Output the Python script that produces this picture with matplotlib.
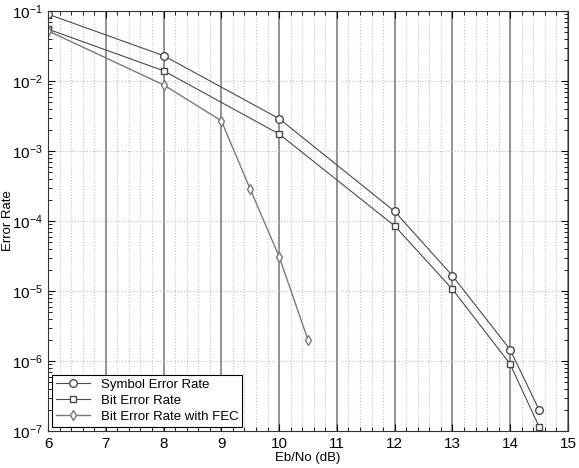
import matplotlib
matplotlib.use('Agg')
import matplotlib.pyplot as plt
from matplotlib.ticker import MultipleLocator, FixedLocator, LogFormatterMathtext, NullFormatter
import numpy as np

plt.rcParams['font.family'] = ['Liberation Sans', 'DejaVu Sans']
plt.rcParams['mathtext.fontset'] = 'custom'
plt.rcParams['mathtext.rm'] = 'Liberation Sans'

ebno_ser = [6, 8, 10, 12, 13, 14, 14.5]
ser = [0.09, 0.023, 0.0029, 1.37e-4, 1.65e-5, 1.45e-6, 2.0e-7]

ebno_ber = [6, 8, 10, 12, 13, 14, 14.5]
ber = [0.055, 0.014, 0.00175, 8.5e-5, 1.06e-5, 9.0e-7, 1.15e-7]

ebno_fec = [6, 8, 9, 9.5, 10, 10.5]
ber_fec = [0.052, 0.0088, 0.0027, 2.85e-4, 3.1e-5, 2.0e-6]

fig = plt.figure(figsize=(5.79, 4.68), dpi=100)
ax = fig.add_axes([0.083, 0.079, 0.898, 0.8975])

ax.semilogy(ebno_ser, ser, '-o', color='#4a4a4a', lw=0.8, mfc='white', mec='#4a4a4a', ms=5.5, label='Symbol Error Rate')
ax.semilogy(ebno_ber, ber, '-s', color='#4a4a4a', lw=0.8, mfc='white', mec='#4a4a4a', ms=5, label='Bit Error Rate')
ax.semilogy(ebno_fec, ber_fec, '-d', color='#7a7a7a', lw=1.0, mfc='white', mec='#7a7a7a', ms=5.5, label='Bit Error Rate with FEC')

ax.set_xlim(6, 15)
ax.set_ylim(1e-7, 1e-1)
ax.xaxis.set_major_locator(FixedLocator(np.arange(6, 16)))
ax.xaxis.set_minor_locator(MultipleLocator(0.2))
decades = 10.0 ** np.arange(-7, 0)
ax.yaxis.set_major_locator(FixedLocator(decades))
ax.yaxis.set_major_formatter(LogFormatterMathtext())
minors = np.concatenate([d * np.arange(2, 10) for d in decades[:-1]])
ax.yaxis.set_minor_locator(FixedLocator(minors))
ax.yaxis.set_minor_formatter(NullFormatter())

ax.grid(which='major', axis='x', color='#808080', lw=1.2, ls='-')
ax.grid(which='minor', axis='x', color='#c0c0c0', lw=0.8, ls=':')
ax.grid(which='major', axis='y', color='#c0c0c0', lw=0.8, ls=':')
ax.tick_params(which='both', direction='in', top=True, right=True, labelsize=11, pad=4)
ax.tick_params(which='major', length=5)
ax.tick_params(which='minor', length=3)
for s in ax.spines.values():
    s.set_color('#333333')

ax.set_xlabel('Eb/No (dB)', fontsize=9.5, labelpad=1)
# y label placed by hand so it sits right against the left edge
fig.text(0.003, 0.528, 'Error Rate', rotation=90, ha='left', va='center', fontsize=9.5)

leg = ax.legend(loc='lower left', fontsize=9.5, fancybox=False, edgecolor='black',
                borderaxespad=0.3, handlelength=2.6, framealpha=1,
                labelspacing=0.3, borderpad=0.3)
leg.get_frame().set_linewidth(0.8)

fig.savefig('out.png', dpi=100)
